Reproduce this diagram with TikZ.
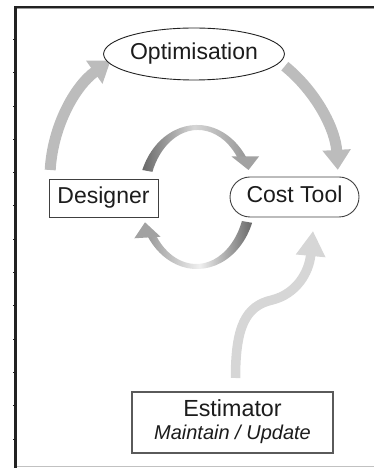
\documentclass[tikz,border=0pt]{standalone}
\usepackage{fontspec}
\setmainfont{Liberation Sans}
\usetikzlibrary{arrows.meta,shapes.geometric}
\definecolor{txt}{HTML}{1C1C1C}
\definecolor{bigarr}{HTML}{BCBCBC}
\definecolor{lowarr}{HTML}{D6D6D6}
\definecolor{frm}{HTML}{222222}
\definecolor{frmshadow}{HTML}{9A9A9A}
\definecolor{boxc}{HTML}{404040}
\definecolor{estc}{HTML}{5A5A5A}
\definecolor{indark}{HTML}{686868}
\definecolor{inmid}{HTML}{979797}
\definecolor{inlight}{HTML}{D6D6D6}
\definecolor{inhead}{HTML}{A2A2A2}
\begin{document}
\begin{tikzpicture}[x=1pt,y=1pt,
  lbl/.style={font=\fontsize{23}{27}\selectfont, text=txt, inner sep=0pt,
              text height=16.8pt, text depth=4.8pt},
  boxnode/.style={draw=boxc, line width=0.9pt, fill=white},
  bigarrow/.style={draw=bigarr, line width=11pt, -{Triangle[length=20pt,width=27pt]}},
  lowarrow/.style={draw=lowarr, line width=9.5pt, -{Triangle[length=25pt,width=28pt]}},
]
\useasboundingbox (0,0) rectangle (374,468);
% frame
\draw[frmshadow, line width=1pt] (16.9,0) -- (16.9,459.6) -- (374,459.6);
\draw[frm, line width=2.3pt, line join=miter] (15.5,0) -- (15.5,461) -- (374,461);
\draw[draw=lowarr!90!black, line width=0.9pt] (17,1.5) -- (374,1.5);
\foreach \k in {0,...,12}
  \draw[frm, line width=0.7pt] (13.2,{428.7-33.3*\k}) -- (14.6,{428.7-33.3*\k});

% named connector end points
\coordinate (ls) at (50.2,298);
\coordinate (rs) at (284.8,401.8);
\coordinate (s0) at (235.5,90);
\coordinate (s1) at (272,168);
\coordinate (s2) at (313,237);

% big outer arrows
\draw[bigarrow] (ls) arc[start angle=176.8, end angle=125.4, radius=144pt];
\draw[bigarrow] (rs) arc[start angle=50.9, end angle=3.2, radius=144pt];

% lower S arrow
\draw[lowarrow] (s0) .. controls (235.5,140) and (245,162) .. (s1)
  .. controls (296,174) and (309,195) .. (s2);

% inner upper ribbon arrow
\shade[left color=indark, right color=inmid, middle color=inlight]
  (142.3,298) arc[start angle=158, end angle=34, x radius=59pt, y radius=72pt]
  -- (238.45,308.5) arc[start angle=34, end angle=158, x radius=49pt, y radius=67pt]
  -- cycle;
\fill[inhead] (231.5,311.5) -- (259,311.5) -- (248.5,298) -- cycle;

% inner lower ribbon arrow
\shade[left color=inhead!95!black, right color=indark, middle color=white!94!black]
  (252.1,245.2) arc[start angle=-21, end angle=-148, x radius=59pt, y radius=72pt]
  -- (154.6,235.5) arc[start angle=-148, end angle=-21, x radius=49pt, y radius=67pt]
  -- cycle;
\fill[inhead] (134.3,229.7) -- (160.5,231.3) -- (145,245.7) -- cycle;

% nodes
\node[ellipse, draw=frm, line width=0.9pt, fill=white, minimum width=162pt,
      minimum height=52pt, lbl] (opt) at (194,414) {Optimisation};
\node[rectangle, boxnode, minimum width=109pt, minimum height=38pt, lbl]
  (des) at (103.5,270) {Designer};
\node[rectangle, rounded corners=20pt, boxnode, minimum width=129pt,
      minimum height=40pt, lbl] (cost) at (294.5,271) {Cost Tool};
\node[rectangle, draw=estc, line width=1.1pt, fill=white, minimum width=201pt,
      minimum height=61pt] (est) at (232.5,45.5) {};
\node[anchor=base, inner sep=0pt, text=txt, font=\fontsize{23.3}{28}\selectfont]
  (estT) at (232.5,51.5) {Estimator};
\node[anchor=base, inner sep=0pt, text=txt, font=\fontsize{20}{24}\selectfont\itshape]
  (estS) at (232.5,28) {Maintain / Update};
\end{tikzpicture}
\end{document}
